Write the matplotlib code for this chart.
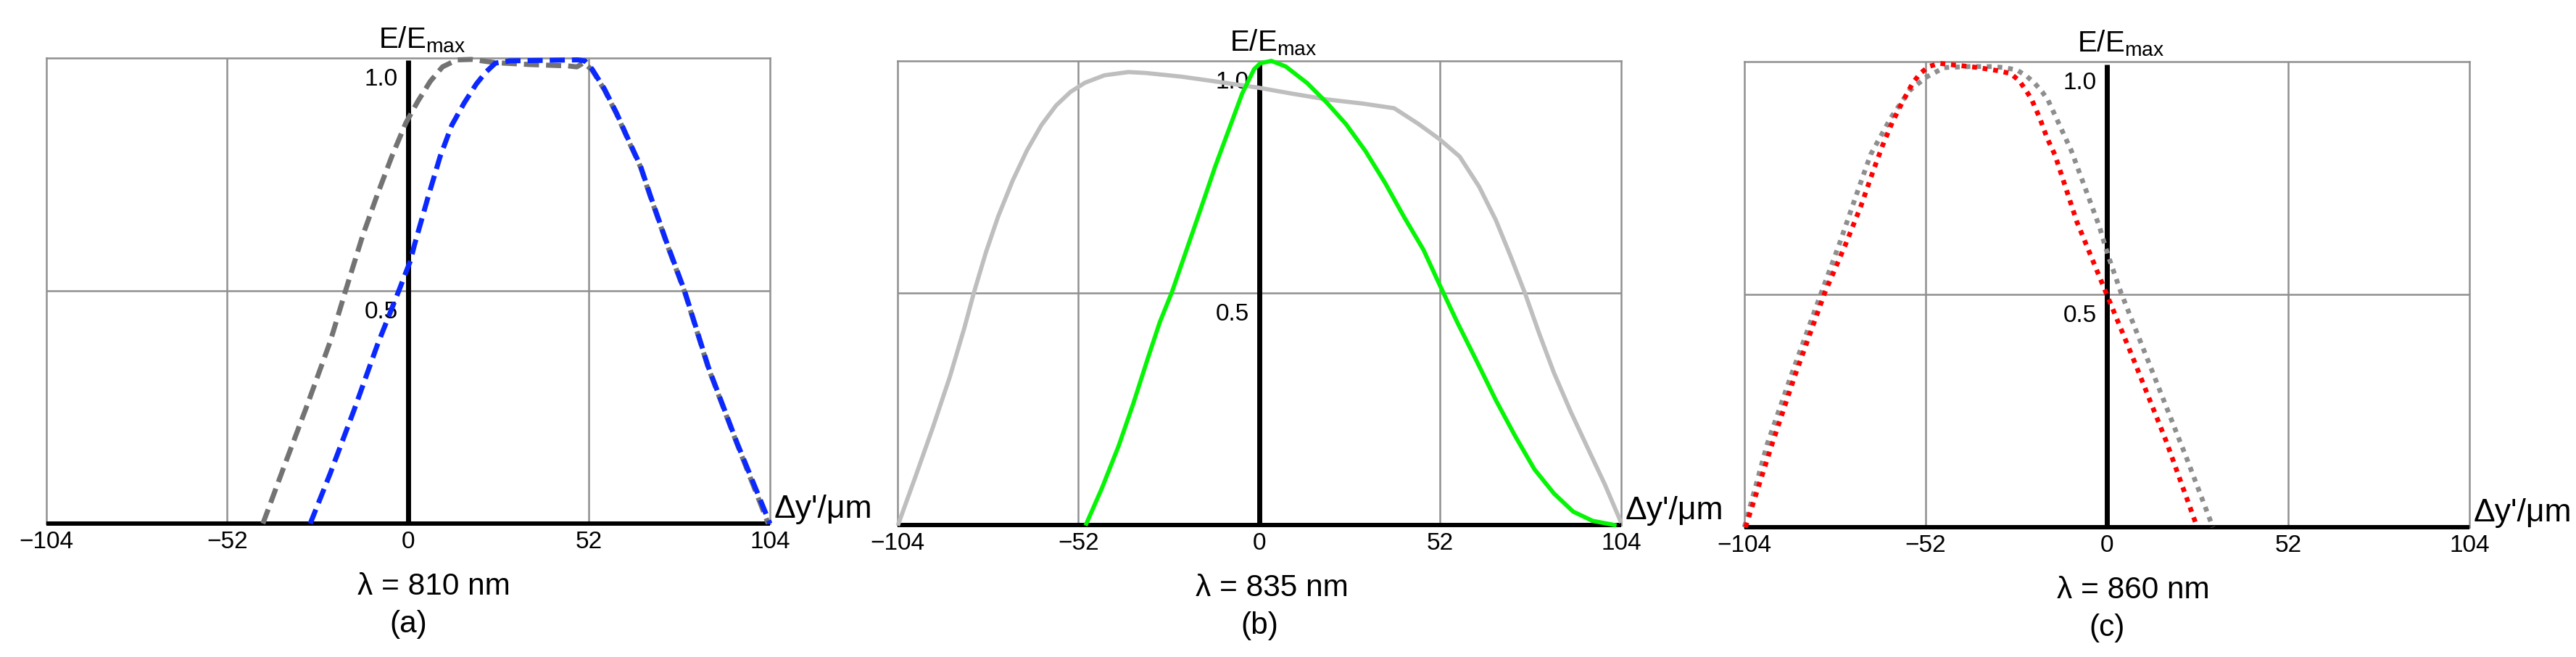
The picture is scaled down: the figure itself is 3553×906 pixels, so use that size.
import matplotlib
matplotlib.use("Agg")
import matplotlib.pyplot as plt

plt.rcParams["font.family"] = ["Liberation Sans", "DejaVu Sans"]
plt.rcParams["mathtext.fontset"] = "custom"
plt.rcParams["mathtext.rm"] = "Liberation Sans"

# x tick positions / labels (µm)
xticks = [-104, -52, 0, 52, 104]
xtick_labels = ["\u2212104", "\u221252", "0", "52", "104"]

# (a) lambda = 810 nm
a_gray_x = [-41.7, -36.0, -29.2, -22.4, -18.0, -13.1, -8.9, -4.7, -0.6, 2.9, 6.4, 9.9, 14.0, 18.2,
            25.1, 35.0, 46.0, 48.5, 50.5, 52.9, 56.4, 59.9, 63.3, 66.8, 69.6, 74.5, 79.5, 86.3, 94.5, 103.5]
a_gray_y = [0.0, 0.115, 0.25, 0.39, 0.499, 0.617, 0.705, 0.788, 0.861, 0.908, 0.950, 0.981, 0.996, 0.997,
            0.990, 0.986, 0.983, 0.981, 0.99, 0.974, 0.932, 0.880, 0.823, 0.766, 0.703, 0.598, 0.497, 0.334, 0.172, 0.0]
a_blue_x = [-28.1, -22.4, -15.6, -8.8, -2.7, 0.7, 1.9, 5.7, 9.2, 12.6, 16.1, 19.6, 22.4, 25.1, 29.3, 40.0,
            48.7, 50.8, 52.9, 56.4, 59.9, 63.3, 66.8, 69.6, 74.5, 79.5, 86.3, 94.5, 104.0]
a_blue_y = [0.0, 0.107, 0.242, 0.384, 0.499, 0.565, 0.60, 0.70, 0.788, 0.856, 0.903, 0.944, 0.970, 0.989, 0.994, 0.995,
            0.996, 0.994, 0.976, 0.934, 0.882, 0.825, 0.768, 0.705, 0.600, 0.499, 0.336, 0.174, 0.0]

# (b) lambda = 835 nm
b_gray_x = [-103.7, -98.7, -93.8, -89.0, -84.8, -82.1, -78.6, -75.1, -70.9, -66.8, -62.6, -58.4, -54.3,
            -50.1, -44.5, -37.6, -32.7, -22.3, -11.9, 0.0, 9.0, 19.4, 29.8, 38.8, 45.8, 51.7, 57.6, 63.2,
            68.0, 72.2, 76.4, 80.5, 84.7, 89.6, 94.4, 99.3, 103.8]
b_gray_y = [0.003, 0.107, 0.211, 0.318, 0.424, 0.499, 0.587, 0.664, 0.742, 0.807, 0.862, 0.904, 0.933,
            0.953, 0.969, 0.976, 0.974, 0.966, 0.955, 0.942, 0.930, 0.917, 0.908, 0.898, 0.864, 0.832, 0.794, 0.729,
            0.657, 0.580, 0.499, 0.412, 0.328, 0.243, 0.166, 0.088, 0.009]
b_green_x = [-49.7, -45.2, -40.4, -36.2, -32.0, -28.6, -25.1, -20.9, -16.7, -12.6, -8.4, -4.9, -1.5, 0.3,
             3.5, 7.6, 13.8, 19.4, 24.9, 30.5, 36.1, 41.6, 47.2, 52.0, 56.9, 62.5, 68.0, 73.6, 79.1, 84.7,
             90.2, 95.8, 102.1]
b_green_y = [0.003, 0.080, 0.171, 0.262, 0.360, 0.437, 0.502, 0.593, 0.684, 0.774, 0.859, 0.930, 0.982, 0.995,
             1.0, 0.988, 0.952, 0.910, 0.864, 0.806, 0.738, 0.664, 0.593, 0.515, 0.437, 0.353, 0.269, 0.191, 0.120, 0.068,
             0.029, 0.009, 0.0]

# (c) lambda = 860 nm
c_gray_x = [-104.0, -97.5, -90.8, -82.0, -76.8, -72.0, -67.8, -62.0, -56.7, -51.9, -46.7, -39.4, -32.8, -29.7,
            -25.9, -23.1, -20.7, -18.6, -16.9, -10.2, -2.2, 0.3, 4.1, 13.7, 23.2, 30.4]
c_gray_y = [0.0, 0.178, 0.322, 0.503, 0.608, 0.712, 0.801, 0.88, 0.938, 0.967, 0.988, 0.990, 0.990, 0.988,
            0.983, 0.970, 0.954, 0.936, 0.918, 0.809, 0.647, 0.585, 0.503, 0.322, 0.142, 0.0]
c_red_x = [-103.7, -96.1, -89.7, -81.0, -75.1, -70.6, -67.1, -64.4, -61.6, -58.8, -55.7, -53.6, -51.2, -48.1,
           -43.2, -37.0, -31.1, -27.6, -25.2, -23.5, -21.7, -19.3, -17.2, -14.9, -8.6, -0.2, 7.3, 16.9, 25.9]
c_red_y = [0.0, 0.178, 0.322, 0.503, 0.606, 0.690, 0.765, 0.820, 0.870, 0.912, 0.955, 0.975, 0.990, 0.997,
           0.993, 0.988, 0.981, 0.975, 0.960, 0.942, 0.921, 0.880, 0.837, 0.80, 0.656, 0.503, 0.367, 0.187, 0.0]

wavelengths = ["\u03bb = 810 nm", "\u03bb = 835 nm", "\u03bb = 860 nm"]
panel_tags = ["(a)", "(b)", "(c)"]

fig = plt.figure(figsize=(35.53, 9.06), dpi=100)
axes = [fig.add_axes([0.0179, 0.2031, 0.2810, 0.7086]),
        fig.add_axes([0.3484, 0.2009, 0.2809, 0.7064]),
        fig.add_axes([0.6772, 0.1976, 0.2814, 0.7081])]

dash = (0, (3.0, 1.4))
dot = (0, (1.0, 1.2))
series = [
    [(a_gray_x, a_gray_y, "#737373", dash, 5.0), (a_blue_x, a_blue_y, "#0a28ff", dash, 5.0)],
    [(b_gray_x, b_gray_y, "#bebebe", "-", 4.2), (b_green_x, b_green_y, "#05f505", "-", 4.2)],
    [(c_gray_x, c_gray_y, "#8e8e8e", dot, 4.8), (c_red_x, c_red_y, "#ff0000", dot, 4.8)],
]
lam_shift = [0.036, 0.018, 0.036]

for i, ax in enumerate(axes):
    ax.set_xlim(-104, 104)
    ax.set_ylim(0, 1)
    for s in ax.spines.values():
        s.set_color("#909090")
        s.set_linewidth(1.8)
    for gx in [-52, 52]:
        ax.axvline(gx, color="#909090", lw=1.8, zorder=1)
    ax.axhline(0.5, color="#909090", lw=1.8, zorder=1)
    # black axes
    ax.plot([-104, 104], [0, 0], color="black", lw=4.3, zorder=3, clip_on=False, solid_capstyle="butt")
    ax.plot([0, 0], [0, 0.995], color="black", lw=5.0, zorder=3, clip_on=False, solid_capstyle="butt")

    for xs, ys, col, ls, lw in series[i]:
        ax.plot(xs, ys, color=col, linestyle=ls, lw=lw, zorder=4, clip_on=False, solid_joinstyle="round")

    ax.set_xticks(xticks)
    ax.set_xticklabels(xtick_labels, fontsize=24)
    ax.tick_params(axis="x", length=0, pad=7)
    ax.set_yticks([])

    for yv, lab in [(1.0, "1.0"), (0.5, "0.5")]:
        ax.annotate(lab, xy=(0, yv), xycoords="data", xytext=(-10, -21), textcoords="offset points",
                    ha="right", va="center", fontsize=24, zorder=2)

    ax.text(4, 1.008, r"E/E$_\mathregular{max}$", ha="center", va="bottom", fontsize=29)
    ax.annotate("\u0394y'/\u03bcm", xy=(1, 0), xycoords="axes fraction", xytext=(4, 6),
                textcoords="offset points", ha="left", va="baseline", fontsize=32, annotation_clip=False)

    ax.text(0.5 + lam_shift[i], -0.136, wavelengths[i], transform=ax.transAxes,
            ha="center", va="center", fontsize=30.5)
    ax.text(0.5, -0.217, panel_tags[i], transform=ax.transAxes, ha="center", va="center", fontsize=30.5)

fig.savefig("out.png", dpi=100)
